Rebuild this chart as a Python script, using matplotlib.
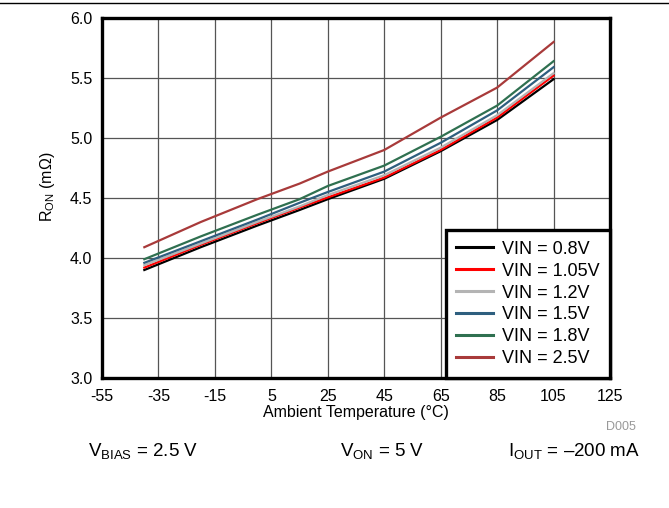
import numpy as np
import matplotlib
matplotlib.use("Agg")
import matplotlib.pyplot as plt
from matplotlib.lines import Line2D

plt.rcParams['font.family'] = ['Liberation Sans', 'DejaVu Sans']
plt.rcParams['mathtext.fontset'] = 'custom'
plt.rcParams['mathtext.rm'] = 'Liberation Sans'
plt.rcParams['axes.unicode_minus'] = False

# temperature points (deg C)
temp = [-40, -20, 0, 15, 25, 45, 65, 85, 105]

# R_ON in mOhm per VIN
ron_08 = [3.90, 4.09, 4.27, 4.40, 4.49, 4.66, 4.89, 5.15, 5.49]
ron_105 = [3.92, 4.11, 4.29, 4.42, 4.505, 4.67, 4.90, 5.17, 5.52]
ron_12 = [3.94, 4.12, 4.30, 4.43, 4.525, 4.69, 4.92, 5.19, 5.54]
ron_15 = [3.96, 4.14, 4.32, 4.46, 4.55, 4.72, 4.96, 5.23, 5.59]
ron_18 = [3.99, 4.18, 4.36, 4.49, 4.60, 4.77, 5.01, 5.27, 5.64]
ron_25 = [4.09, 4.30, 4.49, 4.62, 4.72, 4.90, 5.17, 5.42, 5.80]

labels = ['VIN = 0.8V', 'VIN = 1.05V', 'VIN = 1.2V', 'VIN = 1.5V', 'VIN = 1.8V', 'VIN = 2.5V']
colors = ['#000000', '#ff0000', '#b4b4b4', '#2e5f7f', '#2f7050', '#a83a3a']
series = [ron_08, ron_105, ron_12, ron_15, ron_18, ron_25]

xticks = [-55, -35, -15, 5, 25, 45, 65, 85, 105, 125]
yticks = [3.0, 3.5, 4.0, 4.5, 5.0, 5.5, 6.0]

fig = plt.figure(figsize=(6.69, 5.08), dpi=100)
ax = fig.add_axes([102 / 669, 1 - 378 / 508, 508 / 669, 360 / 508])

for vals, lab, col in zip(series, labels, colors):
    ax.plot(temp, vals, color=col, lw=1.6, label=lab)

ax.set_xlim(-55, 125)
ax.set_ylim(3.0, 6.0)
ax.set_xticks(xticks)
ax.set_yticks(yticks)
ax.set_yticklabels(['%.1f' % v for v in yticks])
ax.tick_params(length=0, labelsize=11.5)
ax.tick_params(axis='x', pad=8)
ax.tick_params(axis='y', pad=7)
ax.grid(True, color='#555555', lw=0.9)
ax.set_axisbelow(True)
for s in ax.spines.values():
    s.set_linewidth(2.4)

ax.set_xlabel('Ambient Temperature (°C)', fontsize=11.5, labelpad=1)
ax.set_ylabel(r'R$_{\mathregular{ON}}$ (m$\Omega$)', fontsize=11.5)
ax.yaxis.set_label_coords(-0.088, 0.53)

leg = ax.legend(loc='lower right', fontsize=13, frameon=True, fancybox=False,
                framealpha=1, borderaxespad=0, handlelength=2.0, labelspacing=0.27,
                borderpad=0.6, handletextpad=0.5)
leg.get_frame().set_edgecolor('black')
leg.get_frame().set_linewidth(2.4)
for h in leg.get_lines():
    h.set_linewidth(2.2)

# top rule
fig.add_artist(Line2D([0, 1], [1 - 3 / 508, 1 - 3 / 508], color='black', lw=1))

fig.text(621 / 669, 1 - 427 / 508, 'D005', color='#999999', fontsize=9, ha='center', va='center')
fig.text(88 / 669, 1 - 452 / 508, r'V$_{\mathregular{BIAS}}$ = 2.5 V', fontsize=13.5, va='center')
fig.text(340 / 669, 1 - 452 / 508, r'V$_{\mathregular{ON}}$ = 5 V', fontsize=13.5, va='center')
fig.text(508 / 669, 1 - 452 / 508, r'I$_{\mathregular{OUT}}$ = –200 mA', fontsize=13.5, va='center')

fig.savefig('out.png', dpi=100)
